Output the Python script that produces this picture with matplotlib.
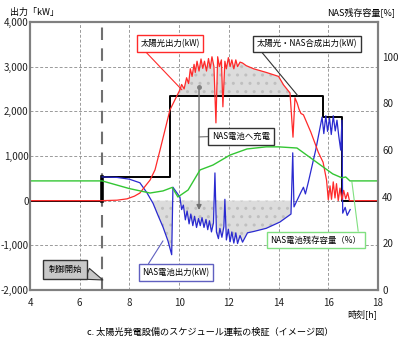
import numpy as np
import matplotlib
matplotlib.use('Agg')
import matplotlib.pyplot as plt
from matplotlib.ticker import FuncFormatter

plt.rcParams['font.family'] = ['Noto Sans CJK JP', 'DejaVu Sans']

# solar output (kW)
t_solar = [4.0, 6.9, 7.5, 7.9, 8.2, 8.42, 8.6, 8.83, 9.03, 9.23, 9.63, 10.03,
           10.1, 10.2, 10.3, 10.38, 10.45, 10.52, 10.6, 10.65, 10.72, 10.8,
           10.88, 10.95, 11.02, 11.1, 11.18, 11.25, 11.32, 11.4, 11.48, 11.55,
           11.62, 11.7, 11.76, 11.84, 11.9, 11.98, 12.05, 12.12, 12.2, 12.28,
           12.35, 12.45, 12.55, 12.7, 13.0, 13.5, 14.0, 14.2, 14.46, 14.58,
           14.66, 14.75, 14.82, 14.9, 15.0, 15.3, 15.6, 15.79, 15.93, 16.0,
           16.07, 16.13, 16.2, 16.27, 16.33, 16.4, 16.47, 16.55, 16.62, 16.7,
           16.78, 16.85, 16.95, 18.0]
solar_kw = [0, 0, 10, 40, 100, 170, 300, 460, 690, 1130, 2030, 2480,
            2600, 2500, 2750, 2620, 2950, 2780, 3050, 2870, 3120, 2900,
            3170, 2960, 3120, 2900, 3180, 2960, 3220, 3000, 1740, 3220,
            3000, 3150, 2100, 3120, 2950, 3200, 3000, 3150, 2950, 3150,
            3000, 3100, 3080, 3020, 2950, 2870, 2780, 2590, 2410, 1420,
            2300, 2180, 2050, 1950, 1920, 1530, 1080, 860, 460, 20,
            330, 30, 420, 60, 380, 0, 280, 20, 230, 40,
            180, 0, 0, 0]

# NAS battery output (kW)
t_nas = [6.9, 7.5, 8.0, 8.42, 8.7, 8.95, 9.15, 9.35, 9.55, 9.7, 9.75, 10.03,
         10.1, 10.17, 10.25, 10.32, 10.4, 10.47, 10.55, 10.62, 10.7, 10.78,
         10.85, 10.92, 11.0, 11.08, 11.15, 11.22, 11.3, 11.38, 11.44, 11.5,
         11.58, 11.64, 11.72, 11.8, 11.84, 11.9, 11.98, 12.05, 12.12, 12.2,
         12.28, 12.35, 12.45, 12.55, 12.75, 13.0, 13.5, 14.05, 14.5, 14.57,
         14.62, 14.9, 15.0, 15.08, 15.2, 15.5, 15.75, 15.82, 15.9, 15.97,
         16.05, 16.12, 16.2, 16.28, 16.35, 16.42, 16.5, 16.55, 16.58, 16.68,
         16.76, 16.88]
nas_kw = [530, 520, 480, 400, 180, -60, -330, -590, -900, -1210, 300, 80,
          -200, -100, -430, -230, -520, -300, -560, -350, -600, -400,
          -560, -380, -600, -420, -650, -450, -700, -500, 620, -700,
          -850, -620, -820, -580, 30, -880, -640, -920, -700, -950,
          -720, -960, -780, -930, -720, -690, -620, -480, -300, 1070,
          -140, 190, 300, 150, 420, 1150, 1870, 1500, 1900, 1550,
          1850, 1480, 1900, 1560, 1800, 1450, 1130, 1800, -280, -150,
          -330, -200]

# combined solar + NAS output (kW), step
t_comb = [4.0, 6.9, 9.63, 15.79, 16.55, 18.0]
comb_kw = [0, 530, 2344, 1874, 0, 0]

# NAS state of charge (%)
t_soc = [4.0, 6.9, 8.0, 8.83, 9.35, 9.72, 9.95, 10.36, 10.84, 11.36, 12.05,
         12.73, 13.5, 14.0, 14.74, 15.79, 16.18, 16.55, 16.7, 16.87, 18.0]
soc_pct = [46.8, 46.8, 43.5, 41.6, 42.5, 44.0, 39.9, 42.9, 51.5, 53.6, 57.9,
           60.5, 61.4, 61.4, 60.9, 52.8, 49.8, 48.1, 48.5, 46.8, 46.8]

ctrl_start = 6.9

RED = '#ff2a2a'
BLUE = '#2a2ad0'
GREEN = '#33c633'
GRID = '#9a9a9a'

fig = plt.figure(figsize=(4.0, 3.42), dpi=100)
ax = fig.add_axes([0.075, 0.152, 0.87, 0.784])
ax2 = ax.twinx()

solar = np.array(solar_kw, dtype=float)
nas = np.array(nas_kw, dtype=float)
tn = np.array(t_nas)

# shaded charging areas
ax.fill_between(t_solar, solar, comb_kw[2], where=solar > comb_kw[2],
                interpolate=True, facecolor='#dcdcdc', edgecolor='#bfbfbf',
                hatch='..', linewidth=0, zorder=1)
ax.fill_between(t_nas, nas, 0, where=(nas < 0) & (tn < 14.55),
                interpolate=True, facecolor='#dcdcdc', edgecolor='#bfbfbf',
                hatch='..', linewidth=0, zorder=1)

ax.axvline(ctrl_start, color='#707070', lw=1.5, dashes=(6, 4), zorder=2)

ax.step(t_comb, comb_kw, where='post', color='black', lw=1.4, zorder=3)
ax.plot([ctrl_start, ctrl_start], [comb_kw[0], comb_kw[1]], color='black',
        lw=2.6, zorder=3)
ax.plot(t_nas, nas_kw, color=BLUE, lw=0.9, zorder=4)
ax.plot(t_solar, solar_kw, color=RED, lw=0.9, zorder=5)
ax2.plot(t_soc, soc_pct, color=GREEN, lw=1.0)

ax.set_xlim(4, 18)
ax.set_ylim(-2000, 4000)
ax2.set_ylim(0, 115)
ax.set_xticks(range(4, 19, 2))
ax.set_yticks(range(-2000, 4001, 1000))
ax2.set_yticks(range(0, 101, 20))
ax.yaxis.set_major_formatter(FuncFormatter(lambda v, p: f'{v:,.0f}'))
ax.grid(True, color=GRID, lw=0.7, dashes=(3, 2))
ax.set_axisbelow(True)
ax.tick_params(axis='both', length=0, labelsize=7, colors='#222222')
ax.tick_params(axis='y', pad=1)
ax.tick_params(axis='x', pad=6)
ax2.tick_params(axis='y', length=0, labelsize=7, pad=3, colors='#222222')
for a in (ax, ax2):
    for s in a.spines.values():
        s.set_color('#808080')
        s.set_linewidth(1.5)

# axis titles
fig.text(10 / 400, 1 - 12 / 342, '出力「kW」', fontsize=6.5, va='center')
fig.text(395 / 400, 1 - 12 / 342, 'NAS残存容量[%]', fontsize=6.5,
         va='center', ha='right')
fig.text(377 / 400, 1 - 314 / 342, '時刻[h]', fontsize=6.5, va='center',
         ha='right')
fig.text(87 / 400, 1 - 332 / 342,
         'c. 太陽光発電設備のスケジュール運転の検証（イメージ図）',
         fontsize=6.6, va='center')

# callout boxes
def callout(text, xy, box_px, edge, rel=(0.5, 0.5), face='white',
            style='-', lc=None):
    ax.annotate(text, xy=xy, xycoords='data',
                xytext=(box_px[0], 342 - box_px[1]),
                textcoords='figure pixels', ha='center', va='center',
                fontsize=6, zorder=10,
                bbox=dict(boxstyle='square,pad=0.45', fc=face, ec=edge,
                          lw=1.0),
                arrowprops=dict(arrowstyle=style, color=lc or edge, lw=0.8,
                                relpos=rel, shrinkA=0, shrinkB=0))

callout('太陽光出力(kW)', (10.11, 2480), (170, 43.5), RED, rel=(0.03, 0))
callout('太陽光・NAS合成出力(kW)', (14.78, comb_kw[2]), (307, 44),
        '#333333', rel=(0.02, 0))
callout('NAS電池出力(kW)', (9.35, -900), (176, 272.5), '#6060c0',
        rel=(0.05, 1))
callout('NAS電池残存容量（%）', (16.95, 420), (316, 240), '#80e080',
        rel=(0.97, 1))

# charging arrow
ax.annotate('', xy=(10.8, -210), xytext=(10.8, 2550),
            arrowprops=dict(arrowstyle='-|>', color='#707070', lw=1.0,
                            mutation_scale=7, shrinkA=0, shrinkB=0),
            zorder=9)
ax.plot(10.8, 2550, 'o', ms=2.5, color='#808080', zorder=9)
callout('NAS電池へ充電', (10.8, 1426), (241, 136.5), '#333333',
        rel=(0, 0.5), lc='#707070')

# control start label
ax.annotate('制御開始', xy=(6.93, -1775), xycoords='data',
            xytext=(65, 342 - 269), textcoords='figure pixels',
            ha='center', va='center', fontsize=6, zorder=10,
            bbox=dict(boxstyle='square,pad=0.6', fc='#c8c8c8', ec='#333333',
                      lw=1.0),
            arrowprops=dict(arrowstyle='wedge,tail_width=1.4,shrink_factor=0.5',
                            fc='#c8c8c8', ec='#333333', lw=0.8,
                            relpos=(0.9, 0.35), shrinkA=0, shrinkB=0))

fig.savefig('out.png', dpi=100)
